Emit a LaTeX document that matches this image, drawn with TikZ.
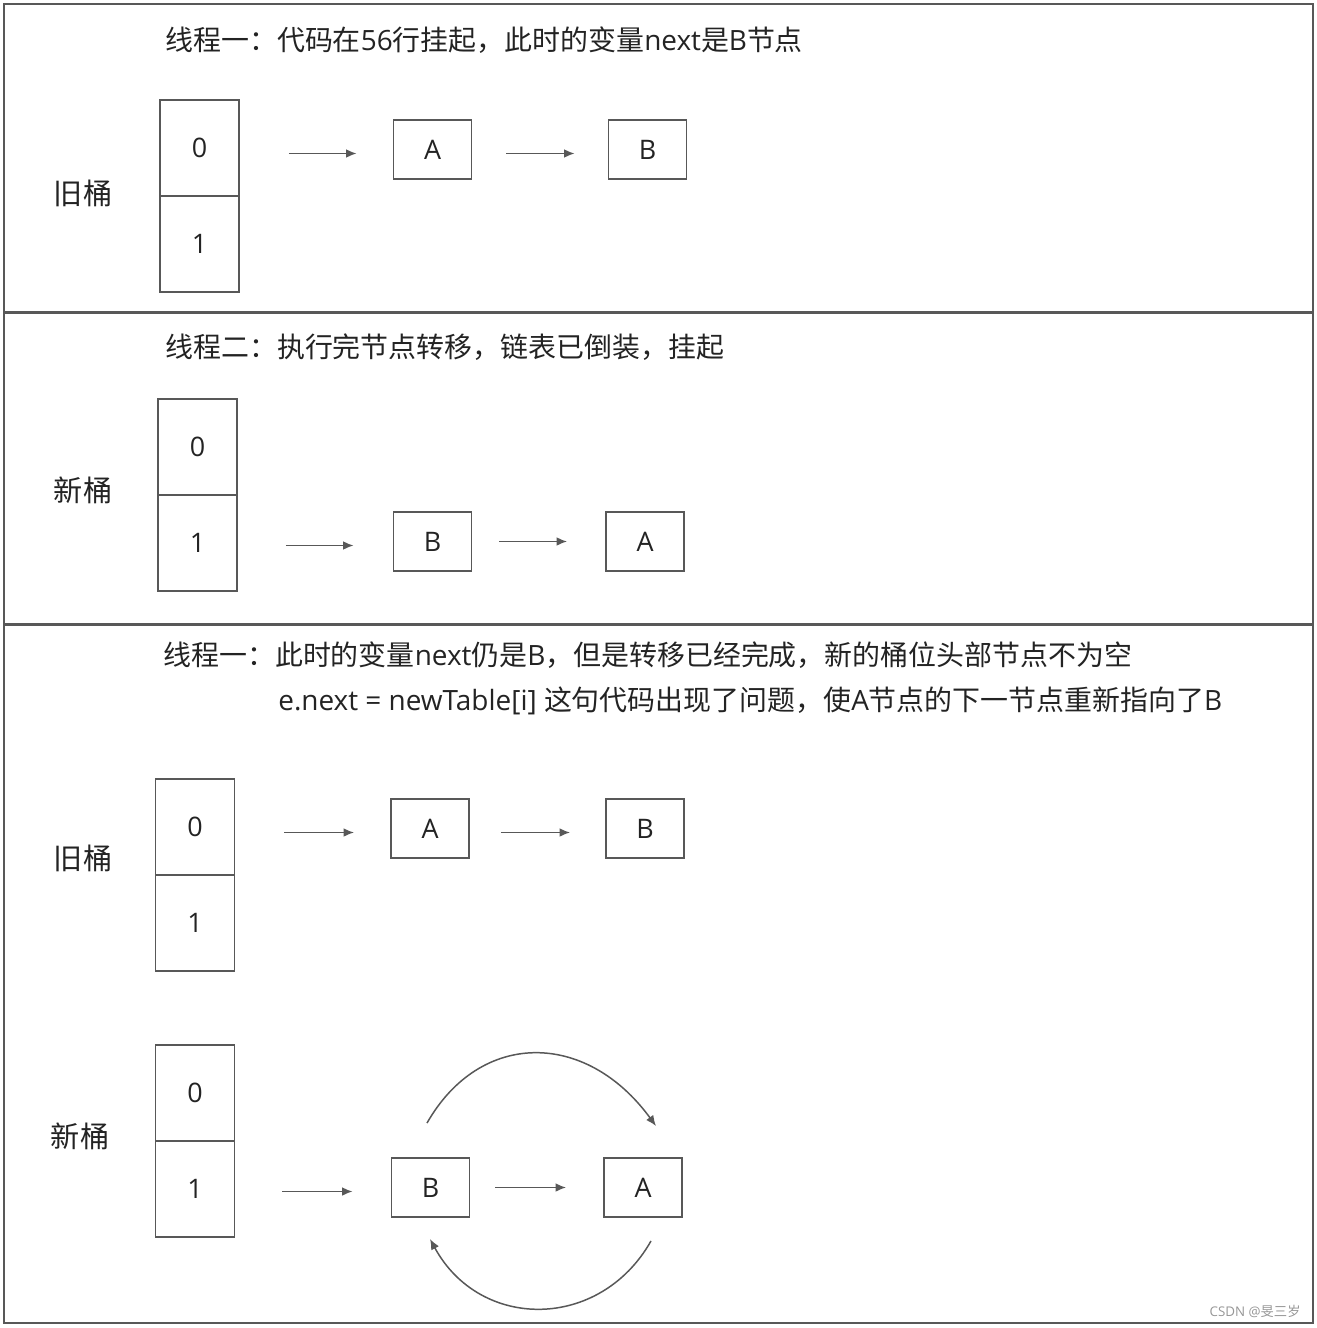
\documentclass[tikz,border=0pt]{standalone}
\usepackage{fontspec}
\setmainfont{Noto Sans CJK SC}
\newfontfamily\lat{Open Sans}
\usetikzlibrary{arrows.meta}

\definecolor{linegray}{RGB}{88,88,88}
\definecolor{txtgray}{RGB}{35,35,35}
\definecolor{markgray}{RGB}{150,150,150}

\begin{document}
\begin{tikzpicture}[x=0.02cm, y=-0.02cm,
  every node/.style={font=\fontsize{15.9pt}{18pt}\selectfont, text=txtgray},
  cell/.style={draw=linegray, line width=1.1pt, minimum width=1.58cm,
    minimum height=1.92cm, inner sep=0pt, font=\fontsize{15.3pt}{18pt}\lat},
  item/.style={draw=linegray, line width=1.1pt, minimum width=1.56cm,
    minimum height=1.18cm, inner sep=0pt, font=\fontsize{15.3pt}{18pt}\lat},
  title/.style={anchor=west, inner sep=0pt},
  side/.style={font=\fontsize{16.6pt}{18pt}\selectfont},
  arr/.style={draw=linegray, line width=0.85pt, -{Latex[length=6pt,width=5pt]}},
  low/.style={transform canvas={yshift=-0.08cm}}]

  \useasboundingbox (0,0) rectangle (1316,1328);

  % frame and the three panels
  \draw[linegray, line width=1.4pt] (4,4) rectangle (1313,1323);
  \draw[linegray, line width=1.4pt] (4,312.5) -- (1313,312.5);
  \draw[linegray, line width=1.4pt] (4,624.5) -- (1313,624.5);

  % panel 1: thread one, old buckets
  \node[title] (t1) at (165,40) {线程一：代码在{\lat 56}行挂起，此时的变量{\lat next}是{\lat B}节点};
  \node[side] (lbl1) at (83,193) {旧桶};
  \node[cell] (ob0) at (199.5,148) {0};
  \node[cell] (ob1) at (199.5,244) {1};
  \node[item] (oa) at (432.5,149.5) {A};
  \node[item] (obn) at (647.5,149.5) {B};
  \draw[arr, low, shorten <=0.98cm, shorten >=0.72cm] (oa.west -| ob0.east) -- (oa.west);
  \draw[arr, low, shorten <=0.68cm, shorten >=0.66cm] (oa.east) -- (obn.west);

  % panel 2: thread two, new buckets
  \node[title] (t2) at (165,347) {线程二：执行完节点转移，链表已倒装，挂起};
  \node[side] (lbl2) at (83,490) {新桶};
  \node[cell] (nb0) at (197.5,447) {0};
  \node[cell] (nb1) at (197.5,543) {1};
  \node[item] (nbn) at (432.5,541.5) {B};
  \node[item] (na) at (645,541.5) {A};
  \draw[arr, low, shorten <=0.96cm, shorten >=0.78cm] (nbn.west -| nb1.east) -- (nbn.west);
  \draw[arr, shorten <=0.54cm, shorten >=0.76cm] (nbn.east) -- (na.west);

  % panel 3: thread one again, both tables
  \node[title] (t3) at (163,655) {线程一：此时的变量{\lat next}仍是{\lat B}，但是转移已经完成，新的桶位头部节点不为空};
  \node[title] (t4) at (278,701) {{\lat e.next = newTable[i] }这句代码出现了问题，使{\lat A}节点的下一节点重新指向了{\lat B}};

  \node[side] (lbl3) at (83,858) {旧桶};
  \node[cell] (pb0) at (195,827) {0};
  \node[cell] (pb1) at (195,923) {1};
  \node[item] (pa) at (430,828.5) {A};
  \node[item] (pbn) at (645,828.5) {B};
  \draw[arr, low, shorten <=0.98cm, shorten >=0.72cm] (pa.west -| pb0.east) -- (pa.west);
  \draw[arr, low, shorten <=0.62cm, shorten >=0.70cm] (pa.east) -- (pbn.west);

  \node[side] (lbl4) at (80,1136) {新桶};
  \node[cell] (qb0) at (195,1093) {0};
  \node[cell] (qb1) at (195,1189) {1};
  \node[item] (qbn) at (430.5,1187.5) {B};
  \node[item] (qa) at (643,1187.5) {A};
  \draw[arr, low, shorten <=0.94cm, shorten >=0.76cm] (qbn.west -| qb1.east) -- (qbn.west);
  \draw[arr, shorten <=0.50cm, shorten >=0.74cm] (qbn.east) -- (qa.west);

  % the loop B -> A -> B
  \coordinate (ts) at ([shift={(-3.5,-34)}]qbn.north);
  \coordinate (te) at ([shift={(13,-31)}]qa.north);
  \coordinate (bs) at ([shift={(8,23)}]qa.south);
  \coordinate (be) at ([shift={(-0.5,21)}]qbn.south);
  \draw[arr] (ts) .. controls +(53,-93) and +(-70,-96) .. (te);
  \draw[arr] (bs) .. controls +(-51,90) and +(50,92) .. (be);

  % watermark
  \node[anchor=east, inner sep=0pt, text=markgray, font=\fontsize{7.6pt}{9pt}\selectfont]
    (mark) at (1301,1311) {{\lat CSDN @}旻三岁};

\end{tikzpicture}
\end{document}
